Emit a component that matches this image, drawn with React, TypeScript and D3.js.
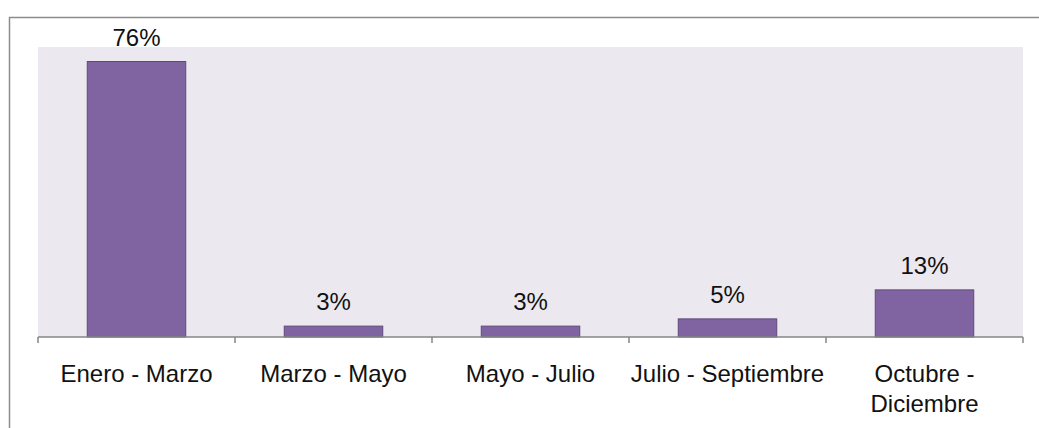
import React from "react";
import * as d3 from "d3";

const categories: string[][] = [
  ["Enero - Marzo"],
  ["Marzo - Mayo"],
  ["Mayo - Julio"],
  ["Julio - Septiembre"],
  ["Octubre -", "Diciembre"],
];
const values: number[] = [0.76, 0.03, 0.03, 0.05, 0.13];
const valueLabels: string[] = ["76%", "3%", "3%", "5%", "13%"];
const yDomain: [number, number] = [0, 0.8];

const W = 1039;
const H = 428;
const plot = { left: 38, right: 1023, top: 47, bottom: 337 };
const FONT = "'Liberation Sans', Arial, sans-serif";

export default function App() {
  const keys = categories.map((_, i) => String(i));
  const x = d3
    .scaleBand<string>()
    .domain(keys)
    .range([plot.left, plot.right])
    .paddingInner(0.5)
    .paddingOuter(0.25);
  const y = d3.scaleLinear().domain(yDomain).range([plot.bottom, plot.top]);
  const boundaries = d3
    .range(categories.length + 1)
    .map((i) => plot.left + i * ((plot.right - plot.left) / categories.length));

  return (
    <svg
      width={W}
      height={H}
      style={{ position: "absolute", left: 0, top: 0, display: "block" }}
    >
      <rect x={0} y={0} width={W} height={H} fill="#ffffff" />
      <rect
        x={9.5}
        y={17.5}
        width={W + 20}
        height={H + 20}
        fill="none"
        stroke="#8c8c8c"
        strokeWidth={1.5}
      />
      <rect
        x={plot.left}
        y={plot.top}
        width={plot.right - plot.left}
        height={plot.bottom - plot.top}
        fill="#ebe9ef"
      />
      {values.map((v, i) => (
        <rect
          key={i}
          x={x(keys[i])!}
          y={y(v)}
          width={x.bandwidth()}
          height={plot.bottom - y(v)}
          fill="#8064a2"
          stroke="#5e4a7c"
          strokeWidth={1}
        />
      ))}
      {values.map((v, i) => (
        <text
          key={"l" + i}
          x={x(keys[i])! + x.bandwidth() / 2}
          y={y(v) - 16}
          textAnchor="middle"
          fontFamily={FONT}
          fontSize={24}
          fill="#111"
        >
          {valueLabels[i]}
        </text>
      ))}
      <line
        x1={plot.left}
        x2={plot.right}
        y1={plot.bottom}
        y2={plot.bottom}
        stroke="#868686"
        strokeWidth={1.5}
      />
      {boundaries.map((bx, i) => (
        <line
          key={"t" + i}
          x1={bx}
          x2={bx}
          y1={plot.bottom}
          y2={plot.bottom + 6}
          stroke="#868686"
          strokeWidth={1.5}
        />
      ))}
      {categories.map((lines, i) => (
        <text
          key={"c" + i}
          x={x(keys[i])! + x.bandwidth() / 2}
          y={382}
          textAnchor="middle"
          fontFamily={FONT}
          fontSize={24}
          fill="#111"
        >
          {lines.map((ln, j) => (
            <tspan key={j} x={x(keys[i])! + x.bandwidth() / 2} dy={j === 0 ? 0 : 30}>
              {ln}
            </tspan>
          ))}
        </text>
      ))}
    </svg>
  );
}
